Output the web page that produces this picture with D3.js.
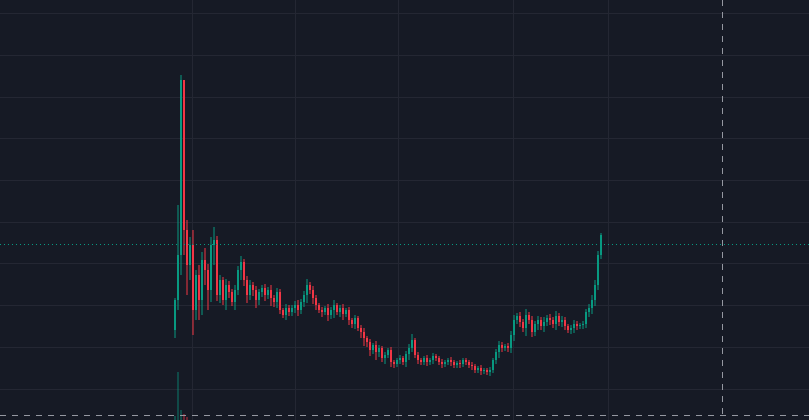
<!DOCTYPE html>
<html><head><meta charset="utf-8">
<script src="https://cdn.jsdelivr.net/npm/d3@7"></script>
<style>body{margin:0;background:#161a25}svg{display:block}</style>
</head><body><svg id="c" width="809" height="420"></svg>
<script>
// closes, per segment of the chart
var closes = [
  120,165,340,190,155,175,110,145,120,160,150,130,175,180,
  125,140,120,135,128,118,130,150,158,140,125,135,130,120,128,
  132,125,130,122,118,128,110,105,112,108,
  112,115,110,118,125,135,130,122,115,110,
  108,112,105,110,115,108,112,106,110,100,96,102,92,
  88,82,78,70,75,68,72,62,65,70,58,56,
  60,62,58,66,72,80,65,60,58,62,58,60,64,62,58,56,58,60,58,55,57,56,60,58,
  55,54,50,52,49,50,48,50,60,
  68,75,72,74,72,85,100,104,98,
  92,105,100,88,96,100,94,98,102,100,96,104,98,100,94,90,92,96,94,95,96,
  108,112,120,135,165,185
];
var firstOpen = 90;
var wickUp = [
  2,50,5,0,10,8,15,5,10,8,12,6,8,13,
  4,5,3,6,4,3,5,4,6,3,4,5,3,4,3,
  3,4,3,5,3,4,3,2,4,3,
  3,4,5,3,4,6,3,4,3,2,
  3,2,4,3,5,2,3,4,2,3,2,3,2,
  3,4,2,3,2,4,3,2,3,2,3,2,
  2,3,2,3,4,6,2,3,2,2,3,2,3,2,2,3,2,2,3,2,2,3,2,2,
  2,3,2,2,3,2,2,3,2,
  3,4,3,2,3,4,5,3,4,
  3,6,3,4,3,4,3,5,3,4,3,5,3,4,3,2,3,4,3,2,3,
  3,4,5,5,4,2
];
var wickDn = [
  8,10,20,25,30,15,25,10,20,15,15,20,12,20,
  6,8,5,10,6,4,8,5,10,6,8,5,6,8,5,
  5,6,4,8,5,6,4,3,5,4,
  4,5,6,4,5,8,4,6,5,3,
  5,3,6,4,8,3,5,6,3,5,4,5,3,
  6,8,5,6,4,8,5,4,6,3,5,4,
  3,4,3,5,6,4,3,4,3,3,4,3,4,3,3,4,3,3,4,3,3,4,3,3,
  3,4,3,3,4,3,3,4,3,
  4,6,4,3,4,5,6,4,5,
  4,8,4,5,4,6,4,6,4,5,4,6,4,5,4,3,4,5,4,3,4,
  4,5,6,6,5,4
];
var volume = [4, 48, 10, 6, 3];
var gridPrices = [407,365,323,282,240,198,157,115,73,31];
var gridIdx = [5.7,40,74.3,112.7,144.3];
var lastPrice = 176;
var crossIdx = 182.4, crossPrice = 5;

var W = 809, H = 420;
var svg = d3.select("#c");
var x = d3.scaleLinear().domain([0, 142]).range([175, 601]);
var y = d3.scaleLinear().domain([0, 420]).range([420, 0]);
var vy = d3.scaleLinear().domain([0, 50]).range([420, 370]);
var up = "#089981", dn = "#f23645";

var data = closes.map(function (c, i) {
  var o = i === 0 ? firstOpen : closes[i - 1];
  return {i: i, o: o, c: c, h: Math.max(o, c) + wickUp[i], l: Math.min(o, c) - wickDn[i]};
});

svg.append("rect").attr("width", W).attr("height", H).attr("fill", "#161a25");
svg.selectAll(".gh").data(gridPrices).enter().append("line")
  .attr("x1", 0).attr("x2", W).attr("y1", function (d) { return y(d) + .5; }).attr("y2", function (d) { return y(d) + .5; })
  .attr("stroke", "#242733");
svg.selectAll(".gv").data(gridIdx).enter().append("line")
  .attr("y1", 0).attr("y2", H).attr("x1", function (d) { return Math.round(x(d)) + .5; }).attr("x2", function (d) { return Math.round(x(d)) + .5; })
  .attr("stroke", "#242733");

svg.selectAll(".vol").data(volume).enter().append("rect")
  .attr("x", function (d, i) { return x(i) - 0.75; }).attr("width", 1.5)
  .attr("y", function (d) { return vy(d); }).attr("height", function (d) { return 420 - vy(d); })
  .attr("fill", function (d, i) { return data[i].c >= data[i].o ? "rgba(8,153,129,0.5)" : "rgba(242,54,69,0.5)"; });

var g = svg.selectAll(".k").data(data).enter().append("g");
g.append("line")
  .attr("x1", function (d) { return x(d.i); }).attr("x2", function (d) { return x(d.i); })
  .attr("y1", function (d) { return y(d.h); }).attr("y2", function (d) { return y(d.l); })
  .attr("stroke", function (d) { return d.c >= d.o ? up : dn; }).attr("stroke-width", 1);
g.append("rect")
  .attr("x", function (d) { return x(d.i) - 1; }).attr("width", 2)
  .attr("y", function (d) { return y(Math.max(d.o, d.c)); })
  .attr("height", function (d) { return Math.max(1, Math.abs(y(d.o) - y(d.c))); })
  .attr("fill", function (d) { return d.c >= d.o ? up : dn; });

svg.append("line").attr("x1", 0).attr("x2", W).attr("y1", y(lastPrice) + .5).attr("y2", y(lastPrice) + .5)
  .attr("stroke", up).attr("stroke-dasharray", "1,3");
svg.append("line").attr("x1", Math.round(x(crossIdx)) + .5).attr("x2", Math.round(x(crossIdx)) + .5).attr("y1", 0).attr("y2", H)
  .attr("stroke", "#9598a1").attr("stroke-dasharray", "6,6");
svg.append("line").attr("x1", 0).attr("x2", W).attr("y1", y(crossPrice) + .5).attr("y2", y(crossPrice) + .5)
  .attr("stroke", "#9598a1").attr("stroke-dasharray", "6,6");
</script></body></html>
